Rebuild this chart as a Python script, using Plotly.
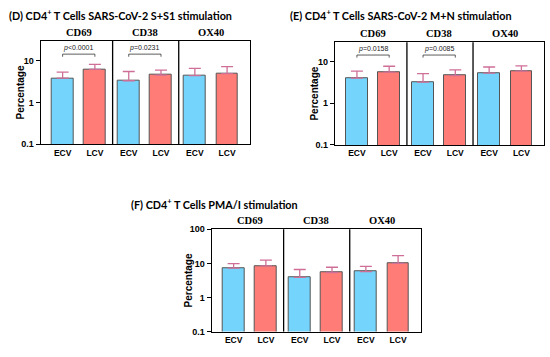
import math
import plotly.graph_objects as go

markers = ["CD69", "CD38", "OX40"]
groups = ["ECV", "LCV"]
xpos_ecv = [0, 2.05, 4.1]
xpos_lcv = [1, 3.05, 5.1]
dividers = [1.55, 3.6]

# Panel D: SARS-CoV-2 S+S1
d_ecv = [3.8, 3.3, 4.4]
d_ecv_sd = [1.5, 2.2, 2.1]
d_lcv = [6.2, 4.5, 4.9]
d_lcv_sd = [1.9, 1.4, 2.3]
d_pvals = ["p<0.0001", "p=0.0231", None]

# Panel E: SARS-CoV-2 M+N
e_ecv = [4.0, 3.2, 5.3]
e_ecv_sd = [1.9, 1.9, 2.1]
e_lcv = [5.6, 4.6, 5.9]
e_lcv_sd = [2.1, 1.7, 2.0]
e_pvals = ["p=0.0158", "p=0.0085", None]

# Panel F: PMA/I
f_ecv = [7.2, 3.9, 5.7]
f_ecv_sd = [2.6, 2.7, 2.5]
f_lcv = [8.4, 5.4, 10.0]
f_lcv_sd = [4.0, 2.3, 6.9]
f_pvals = [None, None, None]

titles = ["(D) CD4<sup>+</sup> T Cells SARS-CoV-2 S+S1 stimulation",
          "(E) CD4<sup>+</sup> T Cells SARS-CoV-2 M+N stimulation",
          "(F) CD4<sup>+</sup> T Cells PMA/I stimulation"]

BLUE = "#74D4FB"
RED = "#FF7C77"
ERR = "#CF6F98"
W, H = 550, 357

fig = go.Figure()

panels = [
    dict(ecv=d_ecv, esd=d_ecv_sd, lcv=d_lcv, lsd=d_lcv_sd, p=d_pvals,
         px=(40.7, 250.0), py=(36.7, 143.3), yr=[-1, math.log10(30)], tv=[0.1, 1, 10],
         title=titles[0], tpos=(7, 10), ylab_x=20),
    dict(ecv=e_ecv, esd=e_ecv_sd, lcv=e_lcv, lsd=e_lcv_sd, p=e_pvals,
         px=(335.0, 544.3), py=(38.3, 144.0), yr=[-1, math.log10(29)], tv=[0.1, 1, 10],
         title=titles[1], tpos=(288, 10), ylab_x=315),
    dict(ecv=f_ecv, esd=f_ecv_sd, lcv=f_lcv, lsd=f_lcv_sd, p=f_pvals,
         px=(211.7, 421.0), py=(230.7, 336.0), yr=[-1, 2], tv=[0.1, 1, 10, 100],
         title=titles[2], tpos=(129, 205), ylab_x=188),
]

tick_font = dict(family="Liberation Sans", size=9, color="black", weight="bold")
layout = {}
annotations = []
shapes = []

for i, p in enumerate(panels):
    n = "" if i == 0 else str(i + 1)
    xa, ya = "x" + n, "y" + n
    for xs, ys, sds, col in [(xpos_ecv, p["ecv"], p["esd"], BLUE), (xpos_lcv, p["lcv"], p["lsd"], RED)]:
        fig.add_trace(go.Bar(
            x=xs, y=ys, width=0.67, xaxis=xa, yaxis=ya,
            marker=dict(color=col, line=dict(color="#555555", width=1)),
            error_y=dict(type="data", array=sds, arrayminus=[0] * len(sds), symmetric=False,
                         color=ERR, thickness=1.3, width=6),
            showlegend=False, hoverinfo="skip",
        ))
    # brackets
    for k, pv in enumerate(p["p"]):
        if pv is None:
            continue
        x0, x1 = xpos_ecv[k], xpos_lcv[k]
        fig.add_trace(go.Scatter(
            x=[x0, x0, x1, x1], y=[12.4, 14.3, 14.3, 12.4], mode="lines",
            line=dict(color="#333333", width=0.8), xaxis=xa, yaxis=ya,
            showlegend=False, hoverinfo="skip"))
        txt = "<i>p</i>" + pv[1:]
        annotations.append(dict(x=(x0 + x1) / 2, y=math.log10(20.5), xref=xa, yref=ya,
                                text=txt, showarrow=False,
                                font=dict(family="Liberation Sans", size=7, color="#222")))
    # dividers
    for dv in dividers:
        shapes.append(dict(type="line", xref=xa, yref=ya + " domain", x0=dv, x1=dv, y0=0, y1=1,
                           line=dict(color="black", width=1.3)))
    # column titles
    for k, m in enumerate(markers):
        annotations.append(dict(x=(xpos_ecv[k] + xpos_lcv[k]) / 2, y=1, xref=xa, yref=ya + " domain",
                                yanchor="bottom", yshift=1, text=m, showarrow=False,
                                font=dict(family="Liberation Serif", size=10.5, color="black", weight="bold")))
    # panel title
    annotations.append(dict(x=p["tpos"][0] / W, y=1 - p["tpos"][1] / H, xref="paper", yref="paper",
                            xanchor="left", yanchor="middle", text=p["title"], showarrow=False,
                            font=dict(family="Lato", size=10.8, color="black", weight="bold")))
    # y label
    annotations.append(dict(x=p["ylab_x"] / W, y=1 - (p["py"][0] + p["py"][1]) / 2 / H,
                            xref="paper", yref="paper", textangle=-90, text="Percentage",
                            showarrow=False, xanchor="center", yanchor="middle",
                            font=dict(family="Liberation Sans", size=10, color="black", weight="bold")))

    layout["xaxis" + n] = dict(
        domain=[p["px"][0] / W, p["px"][1] / W], range=[-0.68, 5.81], anchor=ya,
        tickvals=xpos_ecv + xpos_lcv, ticktext=["ECV"] * 3 + ["LCV"] * 3,
        ticks="", tickfont=dict(family="Liberation Sans", size=8.5, color="black", weight="bold"),
        showline=True, mirror=True, linecolor="black", linewidth=1.3, showgrid=False,
        zeroline=False, fixedrange=True)
    layout["yaxis" + n] = dict(
        domain=[1 - p["py"][1] / H, 1 - p["py"][0] / H], type="log", range=p["yr"], anchor=xa,
        tickvals=p["tv"], ticktext=[("%g" % v) for v in p["tv"]],
        ticks="outside", ticklen=4, tickwidth=1.2, tickcolor="black", tickfont=tick_font,
        showline=True, mirror=True, linecolor="black", linewidth=1.3, showgrid=False,
        zeroline=False, fixedrange=True)

fig.update_layout(
    width=W, height=H, margin=dict(l=0, r=0, t=0, b=0),
    paper_bgcolor="white", plot_bgcolor="white", bargap=0,
    annotations=annotations, shapes=shapes, **layout)

fig.write_html("out.html", config={"displayModeBar": False},
               post_script="document.body.style.margin='0';document.body.style.overflow='hidden';")
